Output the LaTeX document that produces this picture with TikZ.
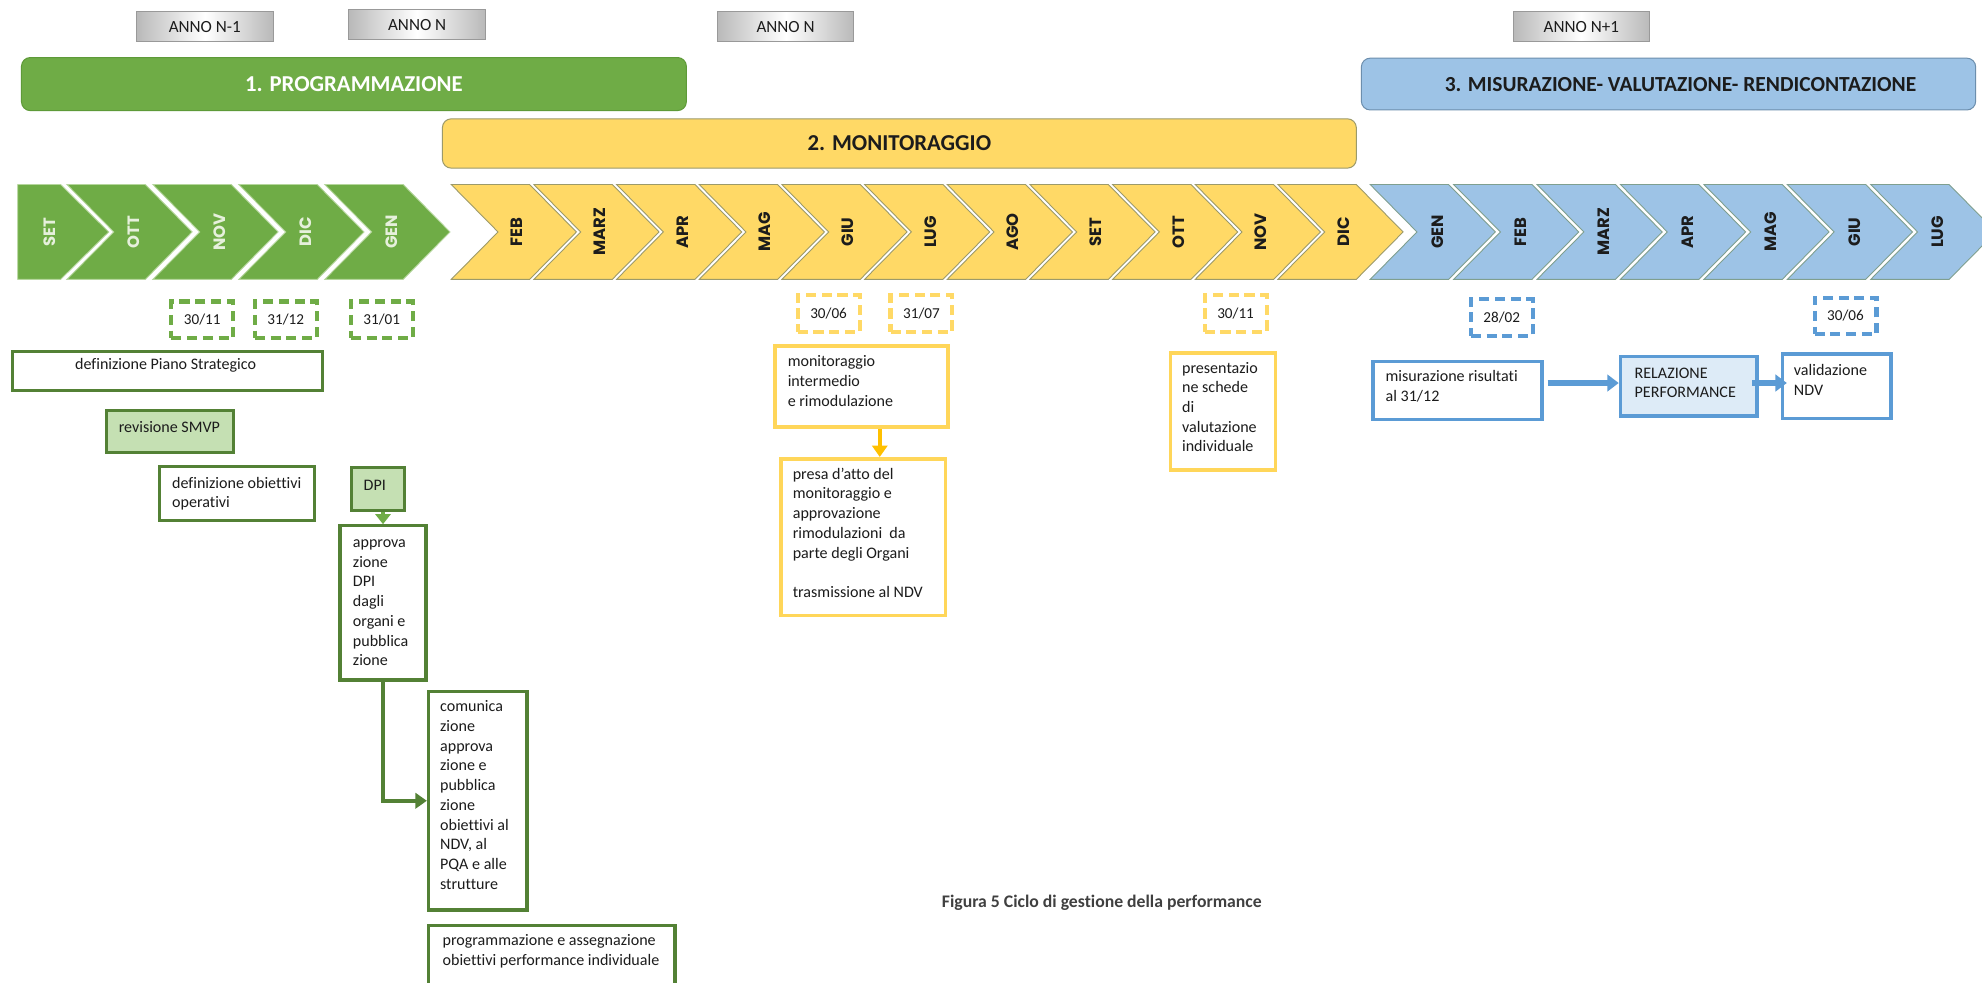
\documentclass[tikz,border=0pt]{standalone}
\usepackage{fontspec}
\setmainfont{Carlito}[Ligatures=NoCommon]
\newfontfamily\chevfont{Poppins}
\usetikzlibrary{arrows.meta}

\definecolor{grn}{HTML}{6FAC46}
\definecolor{grnline}{HTML}{B5D69C}
\definecolor{grnbar}{HTML}{5E9A38}
\definecolor{grndark}{HTML}{538135}
\definecolor{grnlight}{HTML}{C5E0B3}
\definecolor{grntext}{HTML}{E6F0DC}
\definecolor{yel}{HTML}{FFD966}
\definecolor{yelline}{HTML}{9C9A6A}
\definecolor{yelbox}{HTML}{FFD659}
\definecolor{yelarrow}{HTML}{FFC000}
\definecolor{blu}{HTML}{9DC3E6}
\definecolor{bluline}{HTML}{7F9F8F}
\definecolor{blubar}{HTML}{6C8EAD}
\definecolor{bludark}{HTML}{5B9BD5}
\definecolor{blulight}{HTML}{DDEBF7}
\definecolor{ink}{HTML}{1C1C1C}

\begin{document}
\begin{tikzpicture}[x=1pt,y=-1pt,
  yearbox/.style={draw=gray!80, line width=0.8pt, left color=gray!55, right color=gray!55,
    middle color=white, minimum width=108pt, minimum height=24pt, inner sep=0pt,
    font=\fontsize{13.5}{15}\selectfont, text=ink},
  phasebar/.style={rounded corners=7pt, line width=0.8pt, inner sep=0pt,
    font=\fontsize{18}{21}\selectfont\bfseries},
  chev/.style={line width=0.7pt},
  chevlabel/.style={rotate=90, inner sep=0pt, font=\chevfont\bfseries\fontsize{13}{15}\selectfont},
  datebox/.style={line width=3.2pt, dash pattern=on 8pt off 4.5pt, minimum width=49pt,
    minimum height=29pt, inner sep=0pt, font=\fontsize{12}{14}\selectfont, text=ink},
  gbox/.style={draw=grndark, line width=2.6pt, inner sep=0pt},
  ybox/.style={draw=yelbox, line width=3pt, inner sep=0pt},
  bbox/.style={draw=bludark, line width=2.8pt, inner sep=0pt},
  txt/.style={inner sep=0pt, align=left, anchor=north west, font=\fontsize{12.7}{15.6}\selectfont, text=ink},
  txtone/.style={inner sep=0pt, font=\fontsize{12.7}{15.6}\selectfont, text=ink},
  garrow/.style={draw=grn, line width=3.4pt, -{Triangle[width=12pt,length=8pt]}},
  gdarrow/.style={draw=grndark, line width=3.4pt, -{Triangle[width=12pt,length=9pt]}},
  yarrow/.style={draw=yelarrow, line width=3.4pt, -{Triangle[width=12pt,length=9pt]}},
  barrow/.style={draw=bludark, line width=4pt, -{Triangle[width=13pt,length=9pt]}}
]
\useasboundingbox (0,0) rectangle (1568,777);
\clip (0,0) rectangle (1568,777);
\fill[white] (0,0) rectangle (1568,777);

% year labels
\node[yearbox] (a1) at (162,21) {ANNO N-1};
\node[yearbox] (a2) at (330,19.5) {ANNO N};
\node[yearbox] (a3) at (621.5,21) {ANNO N};
\node[yearbox] (a4) at (1251,21) {ANNO N+1};

% phase bars
\node[phasebar, fill=grn, draw=grnbar, minimum width=526pt, minimum height=42pt, text=white]
  (p1) at (280,66.5) {1. PROGRAMMAZIONE};
\node[phasebar, fill=yel, draw=yelline, minimum width=723pt, minimum height=39pt, text=ink]
  (p2) at (711.5,113.5) {2. MONITORAGGIO};
\node[phasebar, fill=blu, draw=blubar, minimum width=486pt, minimum height=41pt, text=ink,
  font=\fontsize{17}{20}\selectfont\bfseries]
  (p3) at (1320,66.5) {\hspace*{19pt}3. MISURAZIONE- VALUTAZIONE- RENDICONTAZIONE};

% month chevrons: programming phase
\draw[chev, fill=grn, draw=grnline] (14,146) -- (48,146) -- (86,183.5) -- (48,221) -- (14,221) -- cycle;
\node[chevlabel, text=grntext] (gm0) at (39,183.5) {SET};
\foreach \lab [count=\i from 0] in {OTT,NOV,DIC,GEN}{
  \pgfmathsetmacro\xa{53+68*\i}
  \draw[chev, fill=grn, draw=grnline] (\xa,146) -- ++(62,0) -- ++(37,37.5) -- ++(-37,37.5)
    -- ++(-62,0) -- ++(37,-37.5) -- cycle;
  \node[chevlabel, text=grntext] (gm\lab) at (\xa+53,183.5) {\lab};
}
% month chevrons: monitoring phase
\foreach \lab [count=\i from 0] in {FEB,MARZ,APR,MAG,GIU,LUG,AGO,SET,OTT,NOV,DIC}{
  \pgfmathsetmacro\xa{357+65.4*\i}
  \draw[chev, fill=yel, draw=yelline] (\xa,146) -- ++(62,0) -- ++(37,37.5) -- ++(-37,37.5)
    -- ++(-62,0) -- ++(37,-37.5) -- cycle;
  \node[chevlabel, text=ink] (ym\i) at (\xa+52,183.5) {\lab};
}
% month chevrons: measurement phase
\foreach \lab [count=\i from 0] in {GEN,FEB,MARZ,APR,MAG,GIU,LUG}{
  \pgfmathsetmacro\xa{1084+66*\i}
  \draw[chev, fill=blu, draw=bluline] (\xa,146) -- ++(62,0) -- ++(37,37.5) -- ++(-37,37.5)
    -- ++(-62,0) -- ++(37,-37.5) -- cycle;
  \node[chevlabel, text=ink] (bm\i) at (\xa+53,183.5) {\lab};
}

% deadlines
\node[datebox, draw=grn] (g1) at (160,253) {30/11};
\node[datebox, draw=grn] (g2) at (226,253) {31/12};
\node[datebox, draw=grn] (g3) at (302,253) {31/01};
\node[datebox, draw=yel] (y1) at (655.5,248) {30/06};
\node[datebox, draw=yel] (y2) at (729,248) {31/07};
\node[datebox, draw=yel] (y3) at (977.5,248) {30/11};
\node[datebox, draw=bludark] (b1) at (1188,251) {28/02};
\node[datebox, draw=bludark] (b2) at (1460,250) {30/06};

% programming activities
\node[gbox, minimum width=245pt, minimum height=31pt] (ps) at (132.5,293.5) {};
\node[txtone] (pst) at (131,289) {definizione Piano Strategico};
\node[gbox, fill=grnlight, minimum width=101pt, minimum height=33pt] (smvp) at (134.5,341.5) {};
\node[txtone] (smvpt) at (134,338) {revisione SMVP};
\node[gbox, minimum width=123pt, minimum height=43pt] (obj) at (187.5,390.5) {};
\node[txt] (objt) at (136,375) {\strut definizione obiettivi\\operativi};
\node[gbox, fill=grnlight, minimum width=42pt, minimum height=34pt] (dpi) at (299,387) {};
\node[txtone] (dpit) at (296.5,384) {DPI};
\node[gbox, minimum width=68pt, minimum height=122pt] (appr) at (303,477) {};
\node[txt] (apprt) at (279,422) {\strut approva\\zione\\DPI\\dagli\\organi e\\pubblica\\zione};
\node[gbox, minimum width=78pt, minimum height=173pt] (com) at (378,633.5) {};
\node[txt] (comt) at (348,552) {\strut comunica\\zione\\approva\\zione e\\pubblica\\zione\\obiettivi al\\NDV, al\\PQA e alle\\strutture};
\node[gbox, minimum width=195pt, minimum height=70pt] (prog) at (436.5,767) {};
\node[txt] (progt) at (350,737) {\strut programmazione e assegnazione\\obiettivi performance individuale};

\draw[garrow] (dpi.south -| appr.north) -- (appr.north);
\draw[gdarrow] (appr.south) |- (com.west);

% monitoring activities
\node[ybox, minimum width=137pt, minimum height=64pt] (mon) at (681.5,306) {};
\node[txt] (mont) at (623,279) {\strut monitoraggio\\intermedio\\e rimodulazione};
\node[ybox, minimum width=130pt, minimum height=124pt] (presa) at (683,425) {};
\node[txt] (presat) at (627,368) {\strut presa d'atto del\\monitoraggio e\\approvazione\\rimodulazioni~ da\\parte degli Organi\\[15.6pt]trasmissione al NDV};
\node[ybox, minimum width=83pt, minimum height=93pt] (pres) at (967.5,325.5) {};
\node[txt] (prest) at (935,284) {\strut presentazio\\ne schede\\di\\valutazione\\individuale};
\coordinate (ma) at ([xshift=14.5pt]mon.south);
\draw[yarrow] (ma) -- (ma |- presa.north);

% measurement activities
\node[bbox, minimum width=134pt, minimum height=46pt] (mis) at (1153,309) {};
\node[txt] (mist) at (1096,291) {\strut misurazione risultati\\al 31/12};
\node[bbox, fill=blulight, minimum width=108pt, minimum height=47pt] (rel) at (1336,305.5) {};
\node[txt] (relt) at (1293,288) {\strut RELAZIONE\\PERFORMANCE};
\node[bbox, minimum width=86pt, minimum height=51pt] (val) at (1453,305.5) {};
\node[txt] (valt) at (1419,286) {\strut validazione\\NDV};
\coordinate (ba) at ([xshift=3pt,yshift=6pt]mis.east);
\draw[barrow] (ba) -- (ba -| rel.west);
\coordinate (bb) at ([xshift=-5pt,yshift=2.5pt]rel.east);
\coordinate (bc) at (bb -| val.west);
\draw[barrow] (bb) -- ([xshift=5pt]bc);

% caption
\node[inner sep=0pt, anchor=west, font=\fontsize{14}{16}\selectfont\bfseries, text=black!75]
  (cap) at (745,714) {Figura 5 Ciclo di gestione della performance};
\end{tikzpicture}
\end{document}
